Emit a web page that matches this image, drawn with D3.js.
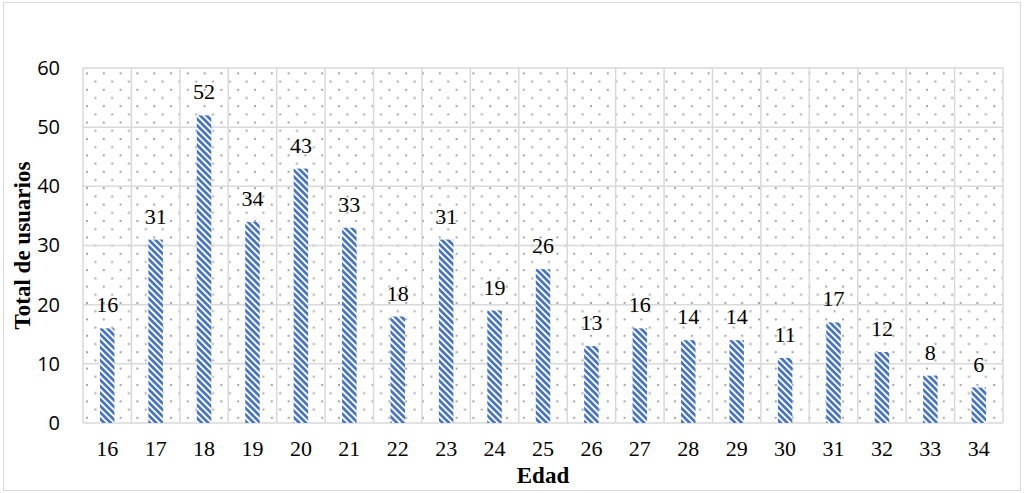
<!DOCTYPE html>
<html>
<head>
<meta charset="utf-8">
<script src="https://cdn.jsdelivr.net/npm/d3@7"></script>
<style>
  html, body { margin: 0; padding: 0; background: #fff; }
  svg { display: block; }
  .serif { font-family: "Liberation Serif", "Times New Roman", serif; }
</style>
</head>
<body>
<svg id="chart" width="1024" height="493"></svg>
<script>
// Usuarios por edad
const ages = ["16","17","18","19","20","21","22","23","24","25","26","27","28","29","30","31","32","33","34"];
const users = [16, 31, 52, 34, 43, 33, 18, 31, 19, 26, 13, 16, 14, 14, 11, 17, 12, 8, 6];
const yTicks = [0, 10, 20, 30, 40, 50, 60];

const svg = d3.select("#chart");
const W = 1024, H = 493;
const m = { left: 83, right: 21, top: 68, bottom: 70 };
const iw = W - m.left - m.right;
const ih = H - m.top - m.bottom;

const defs = svg.append("defs");

// dotted background for the plot area (staggered dots)
const dots = defs.append("pattern")
  .attr("id", "dots").attr("patternUnits", "userSpaceOnUse")
  .attr("x", m.left + 4).attr("y", m.top + 2)
  .attr("width", 16.8).attr("height", 16.4);
dots.append("rect").attr("x", 0).attr("y", 0).attr("width", 2).attr("height", 2).attr("fill", "#a6a6a6");
dots.append("rect").attr("x", 8.4).attr("y", 8.2).attr("width", 2).attr("height", 2).attr("fill", "#a6a6a6");

// diagonal blue stripes for the bars
const stripes = defs.append("pattern")
  .attr("id", "stripes").attr("patternUnits", "userSpaceOnUse")
  .attr("width", 4.6).attr("height", 4.6)
  .attr("patternTransform", "rotate(45)");
stripes.append("rect").attr("width", 4.6).attr("height", 4.6).attr("fill", "#ffffff");
stripes.append("rect").attr("x", 0).attr("y", 0).attr("width", 4.6).attr("height", 2.7).attr("fill", "#4472c4");

// outer frame
svg.append("rect")
  .attr("x", 3.5).attr("y", 2.5).attr("width", 1017).attr("height", 488)
  .attr("fill", "#fff").attr("stroke", "#d9d9d9").attr("stroke-width", 1);

const x = d3.scaleBand().domain(ages).range([0, iw]).paddingInner(0).paddingOuter(0);
const y = d3.scaleLinear().domain([0, 60]).range([ih, 0]);

const g = svg.append("g").attr("transform", `translate(${m.left},${m.top})`);

// plot background
g.append("rect").attr("width", iw).attr("height", ih).attr("fill", "url(#dots)");

// horizontal gridlines
g.append("g").selectAll("line").data(yTicks).join("line")
  .attr("x1", 0).attr("x2", iw)
  .attr("y1", d => y(d)).attr("y2", d => y(d))
  .attr("stroke", "#d9d9d9").attr("stroke-width", 1.5);

// vertical gridlines between categories
const vEdges = ages.map(a => x(a)).concat([iw]);
g.append("g").selectAll("line").data(vEdges).join("line")
  .attr("x1", d => d).attr("x2", d => d)
  .attr("y1", 0).attr("y2", ih)
  .attr("stroke", "#d9d9d9").attr("stroke-width", 1.5);

// bars
const bw = 14.5;
g.append("g").selectAll("rect").data(users).join("rect")
  .attr("x", (d, i) => x(ages[i]) + x.bandwidth() / 2 - bw / 2)
  .attr("y", d => y(d))
  .attr("width", bw)
  .attr("height", d => ih - y(d))
  .attr("fill", "url(#stripes)");

// value labels
g.append("g").selectAll("text").data(users).join("text")
  .attr("class", "serif")
  .attr("x", (d, i) => x(ages[i]) + x.bandwidth() / 2)
  .attr("y", d => y(d) - 16)
  .attr("text-anchor", "middle")
  .style("font-family", "'Liberation Serif', 'Times New Roman', serif")
  .style("font-size", "22px")
  .attr("fill", "#000")
  .text(d => d);

// y axis labels
const yAxis = g.append("g")
  .call(d3.axisLeft(y).tickValues(yTicks).tickSize(0).tickPadding(23));
yAxis.select(".domain").remove();
yAxis.selectAll("text")
  .style("font-family", "'Open Sans', sans-serif")
  .style("font-size", "20px")
  .attr("fill", "#000");

// x axis labels
const xAxis = g.append("g").attr("transform", `translate(0,${ih})`)
  .call(d3.axisBottom(x).tickSize(0).tickPadding(17));
xAxis.select(".domain").remove();
xAxis.selectAll("text")
  .style("font-family", "'Liberation Serif', 'Times New Roman', serif")
  .style("font-size", "22px")
  .attr("fill", "#000");

// axis titles
svg.append("text")
  .attr("x", m.left + iw / 2).attr("y", 483)
  .attr("text-anchor", "middle")
  .style("font-family", "'Liberation Serif', 'Times New Roman', serif")
  .style("font-weight", "bold").style("font-size", "23px")
  .text("Edad");

svg.append("text")
  .attr("transform", `translate(30,${m.top + ih / 2}) rotate(-90)`)
  .attr("text-anchor", "middle")
  .style("font-family", "'Liberation Serif', 'Times New Roman', serif")
  .style("font-weight", "bold").style("font-size", "23px")
  .text("Total de usuarios");
</script>
</body>
</html>
